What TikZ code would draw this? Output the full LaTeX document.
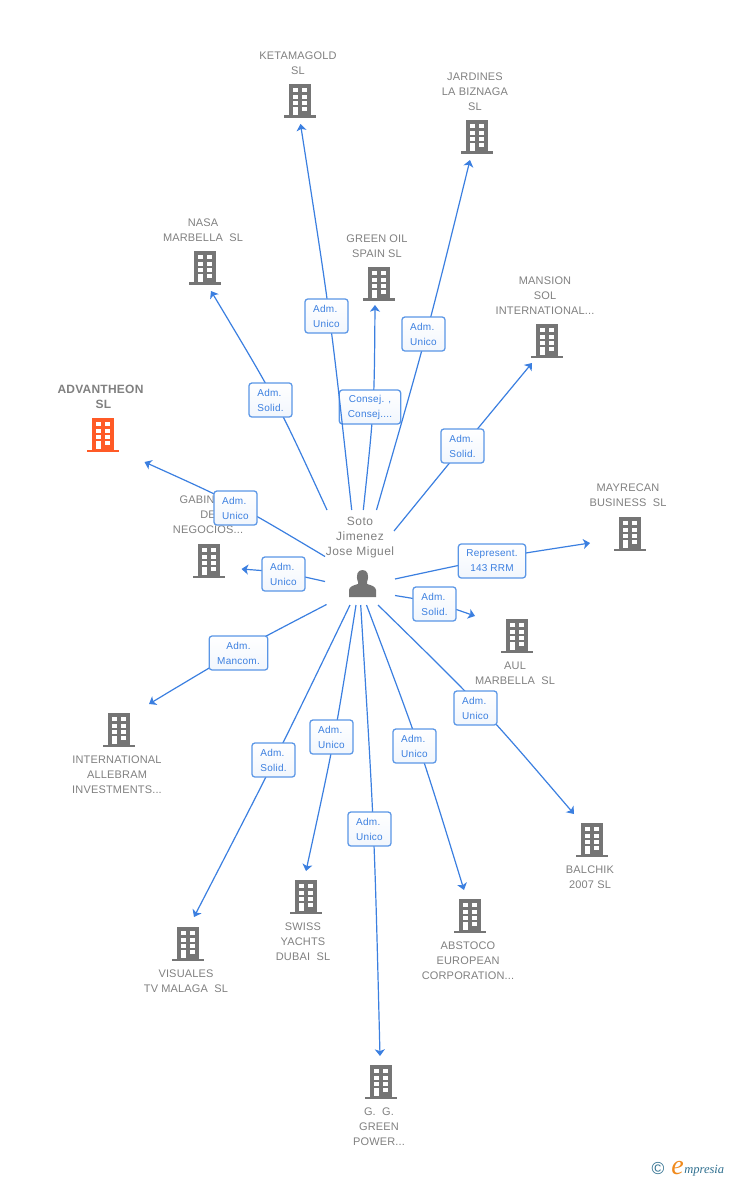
\documentclass[tikz,border=0pt]{standalone}
\usepackage{fontspec}
\setmainfont{Liberation Sans}
\newfontfamily\logofont{Liberation Serif}
\usetikzlibrary{arrows.meta,calc}
\definecolor{edgeblue}{HTML}{3B7FE0}
\definecolor{boxblue}{HTML}{5A96E6}
\definecolor{labelgray}{HTML}{808080}
\definecolor{icongray}{HTML}{757575}
\definecolor{iconorange}{HTML}{FF5A26}
\definecolor{logoteal}{HTML}{2F6F8F}
\definecolor{logoorange}{HTML}{F08A1D}
\newcommand{\bldg}[3]{%
 \begin{scope}[shift={(#1,#2)}]
  \fill[#3] (-11,-17) rectangle (11,15);
  \fill[#3] (-16,14.5) rectangle (16,17);
  \foreach \yy/\hh in {-13/4,-6.3/4,0/4,6.3/4}{
   \fill[white] (2.2,\yy) rectangle ++(5,\hh);
  }
  \foreach \yy/\hh in {-13/4,-6.3/4,0/4,6.3/7.7}{
   \fill[white] (-7.5,\yy) rectangle ++(5,\hh);
  }
 \end{scope}}
\newcommand{\conn}[3]{\draw[edgeline,-{Stealth[length=5pt,width=7.5pt,inset=1.3pt]}] (#1) .. controls ($1.3333*(#2)-0.1667*(#1)-0.1667*(#3)$) and ($1.3333*(#2)-0.1667*(#1)-0.1667*(#3)$) .. (#3);}
\tikzset{
 edgeline/.style={draw=edgeblue,line width=0.9pt},
 rolebox/.style={draw=boxblue,line width=0.95pt,rounded corners=2.2pt,top color=white,bottom color=white!93!edgeblue,
   text=edgeblue,align=center,inner sep=0pt,minimum height=25.5pt,minimum width=32.3pt,
   font=\fontsize{7.5}{11.25}\selectfont\addfontfeature{LetterSpace=2.5}},
 rolel/.style={rolebox,align=left},
 entity/.style={text=labelgray,align=center,inner sep=0pt,font=\fontsize{8.25}{11.25}\selectfont\addfontfeature{LetterSpace=1.5}},
 focus/.style={text=labelgray,align=center,inner sep=0pt,font=\fontsize{9}{11.25}\selectfont\bfseries\addfontfeature{LetterSpace=2}},
 person/.style={text=labelgray,align=center,inner sep=0pt,font=\fontsize{9}{11.25}\selectfont\addfontfeature{LetterSpace=4}},
}
\begin{document}
\begin{tikzpicture}[x=0.75pt,y=-0.75pt]
\useasboundingbox (0,0) rectangle (728,1180);
% text of entities
\node[entity] (tKet) at (298,63) {KETAMAGOLD\\SL};
\node[entity] (tJar) at (475,91.5) {JARDINES\\LA BIZNAGA\\SL};
\node[entity] (tNas) at (203,230) {NASA\\MARBELLA\ \ SL};
\node[entity] (tGre) at (377,246) {GREEN OIL\\SPAIN SL};
\node[entity] (tMan) at (545,295.5) {MANSION\\SOL\\INTERNATIONAL...};
\node[entity] (tMay) at (628,495) {MAYRECAN\\BUSINESS\ \ SL};
\node[entity] (tAul) at (515,673) {AUL\\MARBELLA\ \ SL};
\node[focus]  (tAdv) at (100.5,397) {ADVANTHEON\\\hspace*{4.5pt}SL};
\node[entity] (tGab) at (208,514.5) {GABINETE\\DE\\NEGOCIOS...};
\node[entity] (tInt) at (117,774.5) {INTERNATIONAL\\ALLEBRAM\\INVESTMENTS...};
\node[entity] (tBal) at (590,877) {BALCHIK\\2007 SL};
\node[entity] (tSwi) at (303,941.5) {SWISS\\YACHTS\\DUBAI\ \ SL};
\node[entity] (tVis) at (186,981) {VISUALES\\TV MALAGA\ \ SL};
\node[entity] (tAbs) at (468,960.5) {ABSTOCO\\EUROPEAN\\CORPORATION...};
\node[entity] (tGG)  at (379,1126.5) {G.\ \ G.\\GREEN\\POWER...};
\node[person] (tPer) at (360,537.5) {Soto\\Jimenez\\Jose Miguel};
% icons
\bldg{300}{101}{icongray}
\bldg{477}{137}{icongray}
\bldg{205}{268}{icongray}
\bldg{379}{284}{icongray}
\bldg{547}{341}{icongray}
\bldg{630}{534}{icongray}
\bldg{517}{636}{icongray}
\bldg{103}{435}{iconorange}
\bldg{209}{561}{icongray}
\bldg{119}{730}{icongray}
\bldg{592}{840}{icongray}
\bldg{306}{897}{icongray}
\bldg{188}{944}{icongray}
\bldg{470}{916}{icongray}
\bldg{381}{1082}{icongray}
% person icon
\fill[icongray] (349,597) -- (349,590) .. controls (349.5,586.5) and (353,585.5) .. (358,584)
 -- (358,582) .. controls (355.5,575) and (357.5,570) .. (362.5,570)
 .. controls (367.5,570) and (369.5,575) .. (367,582) -- (367,584)
 .. controls (372,585.5) and (375.5,586.5) .. (376,590) -- (376,597) -- cycle;
% free ends
\coordinate (sKet) at (351.7,510); \coordinate (wKet) at (329.5,317); \coordinate (eKet) at (300.5,124);
\coordinate (sJar) at (376.5,510); \coordinate (wJar) at (426,335);   \coordinate (eJar) at (470,160);
\coordinate (sGre) at (363.3,510); \coordinate (wGre) at (373,407.5); \coordinate (eGre) at (375,305);
\coordinate (sNas) at (327,510);   \coordinate (wNas) at (274.5,400); \coordinate (eNas) at (211,291);
\coordinate (sMan) at (394,531);   \coordinate (wMan) at (463.5,446); \coordinate (eMan) at (532,363);
\coordinate (sMay) at (395,579);   \coordinate (wMay) at (492.5,558.8); \coordinate (eMay) at (590,543);
\coordinate (sAul) at (395,595.5); \coordinate (wAul) at (435,603);   \coordinate (eAul) at (475,616);
\coordinate (sAdv) at (325,556.5); \coordinate (wAdv) at (235,504.5); \coordinate (eAdv) at (144.5,462);
\coordinate (sGab) at (325,581.5); \coordinate (wGab) at (283.5,573); \coordinate (eGab) at (241.5,569);
\coordinate (sInt) at (326.5,604.5); \coordinate (wInt) at (238,651.5); \coordinate (eInt) at (149,704);
\coordinate (sBal) at (378,605);   \coordinate (wBal) at (482,709);   \coordinate (eBal) at (574,814);
\coordinate (sAbs) at (366.5,605); \coordinate (wAbs) at (419,747.5); \coordinate (eAbs) at (464,890);
\coordinate (sGG)  at (360.7,605); \coordinate (wGG)  at (373.4,830); \coordinate (eGG)  at (380,1056);
\coordinate (sSwi) at (356,605);   \coordinate (wSwi) at (334,738);   \coordinate (eSwi) at (306,871);
\coordinate (sVis) at (350,605);   \coordinate (wVis) at (274,761);   \coordinate (eVis) at (194,917);
% label anchors
\coordinate (mKet) at (326.5,316);
\coordinate (mJar) at (423.5,334);
\coordinate (mGre) at (370,407);
\coordinate (mNas) at (270.5,400);
\coordinate (mMan) at (462.5,446);
\coordinate (mMay) at (492,561);
\coordinate (mAul) at (434.5,604);
\coordinate (mAdv) at (235.5,508);
\coordinate (mGab) at (283.5,574);
\coordinate (mInt) at (238.5,653);
\coordinate (mBal) at (475.5,708);
\coordinate (mVis) at (273.5,760);
\coordinate (mSwi) at (331.5,737);
\coordinate (mAbs) at (414.5,746);
\coordinate (mGG)  at (369.5,829);
% the Consej box lies under the Ketamagold connector
\conn{sGre}{wGre}{eGre}
\node[rolebox,minimum width=46pt] (bGre) at (mGre) {Consej. ,\\Consej....};
% connectors
\foreach \n in {Ket,Jar,Nas,Man,May,Aul,Adv,Gab,Int,Bal,Vis,Swi,Abs,GG}{\conn{s\n}{w\n}{e\n}}
% role boxes
\node[rolel] (bKet) at (mKet) {Adm.\\Unico};
\node[rolel] (bJar) at (mJar) {Adm.\\Unico};
\node[rolel] (bNas) at (mNas) {Adm.\\Solid.};
\node[rolel] (bMan) at (mMan) {Adm.\\Solid.};
\node[rolebox,minimum width=50.5pt] (bMay) at (mMay) {Represent.\\143 RRM};
\node[rolel] (bAul) at (mAul) {Adm.\\Solid.};
\node[rolel] (bAdv) at (mAdv) {Adm.\\Unico};
\node[rolel] (bGab) at (mGab) {Adm.\\Unico};
\node[rolebox,minimum width=44pt] (bInt) at (mInt) {Adm.\\Mancom.};
\node[rolel] (bBal) at (mBal) {Adm.\\Unico};
\node[rolel] (bVis) at (mVis) {Adm.\\Solid.};
\node[rolel] (bSwi) at (mSwi) {Adm.\\Unico};
\node[rolel] (bAbs) at (mAbs) {Adm.\\Unico};
\node[rolel] (bGG)  at (mGG) {Adm.\\Unico};
% logo
\node[inner sep=0pt,text=logoteal,font=\fontsize{13}{13}\selectfont] (logoC) at (658,1169) {©};
\node[inner sep=0pt,anchor=base west,text=logoorange,font=\logofont\itshape\fontsize{21}{21}\selectfont] (logoE) at (671,1174) {e};
\node[inner sep=0pt,anchor=base west,text=logoteal,font=\logofont\itshape\fontsize{9.4}{12}\selectfont] (logoT) at (684,1173) {mpresia};
\end{tikzpicture}
\end{document}
